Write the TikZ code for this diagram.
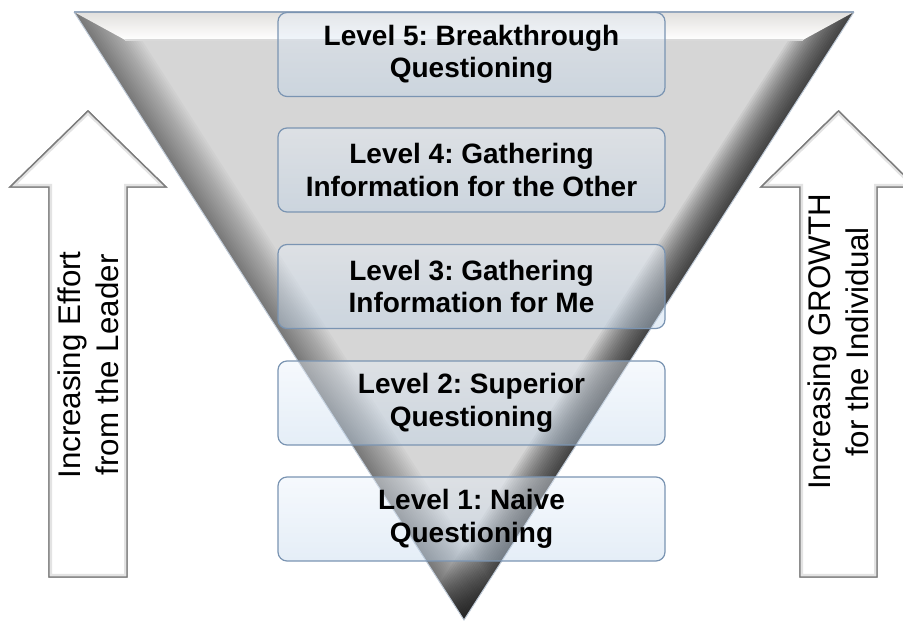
\documentclass[tikz,border=0pt]{standalone}
\usepackage{fontspec}
\setmainfont{Liberation Sans}
\usetikzlibrary{calc}

\definecolor{funnelgray}{RGB}{214,214,214}
\definecolor{funnelrim}{RGB}{150,168,190}
\definecolor{bandtop}{RGB}{226,224,221}
\definecolor{boxblue}{RGB}{189,212,235}
\definecolor{boxtop}{RGB}{232,240,250}
\definecolor{boxline}{RGB}{122,148,178}
\definecolor{arrowline}{RGB}{125,125,125}

\tikzset{
  levelbox/.style={draw=boxline, line width=1.2pt, rounded corners=9pt,
    minimum width=387pt, minimum height=84pt, inner sep=0pt, align=center,
    top color=boxtop, bottom color=boxblue, fill opacity=0.4, text opacity=1,
    font=\bfseries\fontsize{28}{32.5}\selectfont},
  arrowtext/.style={rotate=90, align=center, inner sep=0pt,
    font=\fontsize{31.3}{38}\selectfont},
  arrowbody/.style={fill=white, draw=arrowline, line width=1.4pt, line join=miter}
}

\begin{document}
\frenchspacing
\begin{tikzpicture}[x=1pt,y=1pt]
\useasboundingbox (0,0) rectangle (903,621);
\clip (0,0) rectangle (903,621);

% ---- inverted funnel ----
\coordinate (A) at (74,609);
\coordinate (B) at (854,609);
\coordinate (C) at (464,1);
\coordinate (Ai) at (125.2,581);
\coordinate (Bi) at (802.8,581);

\fill[funnelgray] (A) -- (B) -- (C) -- cycle;
\begin{scope}
  \clip (A) -- (B) -- (C) -- cycle;
  % left bevel: soft shade along the left slope
  \foreach \w in {2,4,...,42}
    \fill[black, opacity=0.024] (A) -- (C) -- ($(C)+(0.842*\w,0.540*\w)$) -- ($(A)+(0.842*\w,0.540*\w)$) -- cycle;
  % right bevel: deeper shade along the right slope
  \foreach \w in {2,4,...,40}
    \fill[black, opacity=0.05] (B) -- (C) -- ($(C)+(-0.842*\w,0.540*\w)$) -- ($(B)+(-0.842*\w,0.540*\w)$) -- cycle;
  % highlighted top band
  \shade[top color=bandtop, bottom color=white] (A) -- (B) -- (Bi) -- (Ai) -- cycle;
  \draw[gray!30, line width=1.2pt] (Ai) -- (Bi);
\end{scope}
\draw[funnelrim!60!white, line width=1pt] (A) -- (C) -- (B);
\draw[funnelrim, line width=1.3pt] (A) -- (B);

% ---- side arrows ----
\draw[arrowbody] (49,44) -- (49,434) -- (10,434) -- (88,510) -- (166,434) -- (127,434) -- (127,44) -- cycle;
\begin{scope}
  \clip (49,44) -- (49,434) -- (10,434) -- (88,510) -- (166,434) -- (127,434) -- (127,44) -- cycle;
  \draw[gray!22, line width=6pt] (49,44) -- (49,434) -- (10,434) -- (88,510) -- (166,434) -- (127,434) -- (127,44) -- cycle;
\end{scope}
\draw[arrowline, line width=1.4pt, line join=miter] (49,44) -- (49,434) -- (10,434) -- (88,510) -- (166,434) -- (127,434) -- (127,44) -- cycle;

\draw[arrowbody] (800,44) -- (800,434) -- (761,434) -- (838.5,510) -- (916,434) -- (877,434) -- (877,44) -- cycle;
\begin{scope}
  \clip (800,44) -- (800,434) -- (761,434) -- (838.5,510) -- (916,434) -- (877,434) -- (877,44) -- cycle;
  \draw[gray!22, line width=6pt] (800,44) -- (800,434) -- (761,434) -- (838.5,510) -- (916,434) -- (877,434) -- (877,44) -- cycle;
\end{scope}
\draw[arrowline, line width=1.4pt, line join=miter] (800,44) -- (800,434) -- (761,434) -- (838.5,510) -- (916,434) -- (877,434) -- (877,44) -- cycle;

\node[arrowtext] (effort) at (88,256) {Increasing Effort\\from the Leader};
\node[arrowtext] (growth) at (838.5,279) {Increasing GROWTH\\for the Individual};

% ---- question levels ----
\node[levelbox] (l5) at (471.5,566.5) {Level 5: Breakthrough\\Questioning};
\node[levelbox] (l4) at (471.5,451) {Level 4: Gathering\\Information for the Other};
\node[levelbox] (l3) at (471.5,334.5) {Level 3: Gathering\\Information for Me};
\node[levelbox] (l2) at (471.5,218) {Level 2: Superior\\Questioning};
\node[levelbox] (l1) at (471.5,102) {Level 1: Naive\\Questioning};
\end{tikzpicture}
\end{document}
